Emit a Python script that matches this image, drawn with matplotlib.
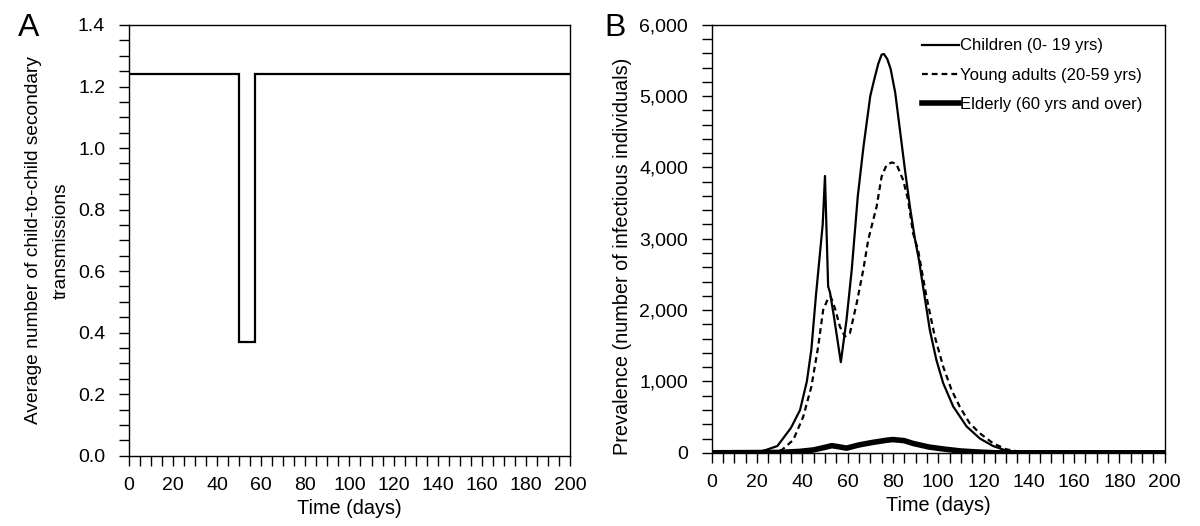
import matplotlib
matplotlib.use("Agg")
import matplotlib.pyplot as plt
from matplotlib.ticker import MultipleLocator, FuncFormatter

plt.rcParams['font.family'] = ['Liberation Sans', 'DejaVu Sans']

# ---------------- Data ----------------
# Panel A: average number of child-to-child secondary transmissions
a_days = [0, 50, 50, 57, 57, 200]
a_vals = [1.24, 1.24, 0.37, 0.37, 1.24, 1.24]

# Panel B: prevalence by age group
child_days = [0, 18, 20, 24, 29, 35, 39, 42, 44, 46, 47.5, 49, 50, 51.4, 52.2, 54,
              57, 59.5, 61.8, 64.5, 67, 70, 71.5, 73.5, 75, 76, 77.5, 79, 81, 83,
              85.3, 87.5, 89.7, 91.5, 93.3, 96.3, 99.2, 102.2, 106.6, 112.5, 118.4,
              124.2, 130, 136, 140, 200]
child_vals = [0, 0, 7, 40, 95, 350, 600, 1000, 1450, 2200, 2700, 3200, 3880, 2330, 2250, 1900,
              1270, 1860, 2560, 3600, 4290, 5000, 5200, 5450, 5580, 5590, 5520, 5380, 5050, 4550,
              3970, 3450, 3000, 2700, 2330, 1720, 1300, 975, 650, 370, 200,
              95, 30, 5, 0, 0]

young_days = [0, 26, 31, 36, 40.4, 44, 47, 49.2, 51.4, 52.5, 54.4, 56.6, 58.8, 61, 64,
              66.9, 69.1, 71.3, 72.8, 75, 77.2, 79.5, 81.5, 84.5, 86.7, 88.9, 91.1,
              94.8, 98.5, 102.2, 105.9, 109.5, 113.9, 118.4, 124.2, 130, 136, 140, 200]
young_vals = [0, 0, 40, 180, 506, 927, 1488, 2002, 2166, 2190, 2026, 1768, 1630, 1675, 2096,
              2563, 2984, 3264, 3450, 3871, 4035, 4070, 4050, 3825, 3544, 3077, 2843,
              2189, 1628, 1207, 880, 646, 413, 273, 133, 49, 15, 0, 0]

elder_days = [0, 30, 39, 45, 50.5, 53, 56, 59.5, 65, 71, 77, 80, 85, 89, 96, 103, 110,
              118, 125, 200]
elder_vals = [0, 5, 20, 40, 80, 100, 85, 65, 110, 145, 175, 185, 170, 130, 80, 50, 25,
              10, 0, 0]

labels = ["Children (0- 19 yrs)", "Young adults (20-59 yrs)", "Elderly (60 yrs and over)"]

# ---------------- Figure ----------------
fig = plt.figure(figsize=(12, 5.26), dpi=100)
axA = fig.add_axes([0.1073, 0.1337, 0.3678, 0.8188])
axB = fig.add_axes([0.5931, 0.1392, 0.3775, 0.8138])

TFS = 14     # tick labels
LFS = 14.3   # axis labels

def style(ax):
    for s in ax.spines.values():
        s.set_linewidth(1.0)
        s.set_color('black')
    ax.tick_params(axis='both', which='both', direction='out', length=7, width=1,
                   colors='black', labelsize=TFS)
    ax.tick_params(axis='y', which='both', pad=10)
    ax.tick_params(axis='x', which='both', pad=8)
    ax.xaxis.set_major_locator(MultipleLocator(20))
    ax.xaxis.set_minor_locator(MultipleLocator(5))
    ax.set_xlim(0, 200)
    ax.set_xlabel("Time (days)", fontsize=LFS, labelpad=4)

# Panel A
axA.plot(a_days, a_vals, color='black', lw=1.6, solid_joinstyle='miter')
axA.set_ylim(0, 1.4)
axA.yaxis.set_major_locator(MultipleLocator(0.2))
axA.yaxis.set_minor_locator(MultipleLocator(0.05))
axA.yaxis.set_major_formatter(FuncFormatter(lambda v, p: f"{v:.1f}"))
style(axA)
axA.set_ylabel("Average number of child-to-child secondary\ntransmissions",
               fontsize=13.8, linespacing=1.8, labelpad=6)

# Panel B
axB.plot(child_days, child_vals, color='black', lw=1.6, label=labels[0])
axB.plot(young_days, young_vals, color='black', lw=1.6, dashes=(2.6, 1.8), label=labels[1])
axB.plot(elder_days, elder_vals, color='black', lw=4.0, label=labels[2])
axB.set_ylim(0, 6000)
axB.yaxis.set_major_locator(MultipleLocator(1000))
axB.yaxis.set_minor_locator(MultipleLocator(200))
axB.yaxis.set_major_formatter(FuncFormatter(lambda v, p: f"{int(v):,}"))
style(axB)
axB.set_ylabel("Prevalence (number of infectious individuals)", fontsize=LFS, labelpad=6)
axB.yaxis.set_label_coords(-0.177, 0.46)

leg = axB.legend(loc='upper left', bbox_to_anchor=(0.464, 0.968), frameon=False,
                 fontsize=12, handlelength=2.2, handletextpad=0.1,
                 labelspacing=0.85, borderpad=0, borderaxespad=0)

fig.text(0.015, 0.975, "A", fontsize=23, va='top', ha='left')
fig.text(0.504, 0.975, "B", fontsize=23, va='top', ha='left')

fig.savefig("out.png", dpi=100)
